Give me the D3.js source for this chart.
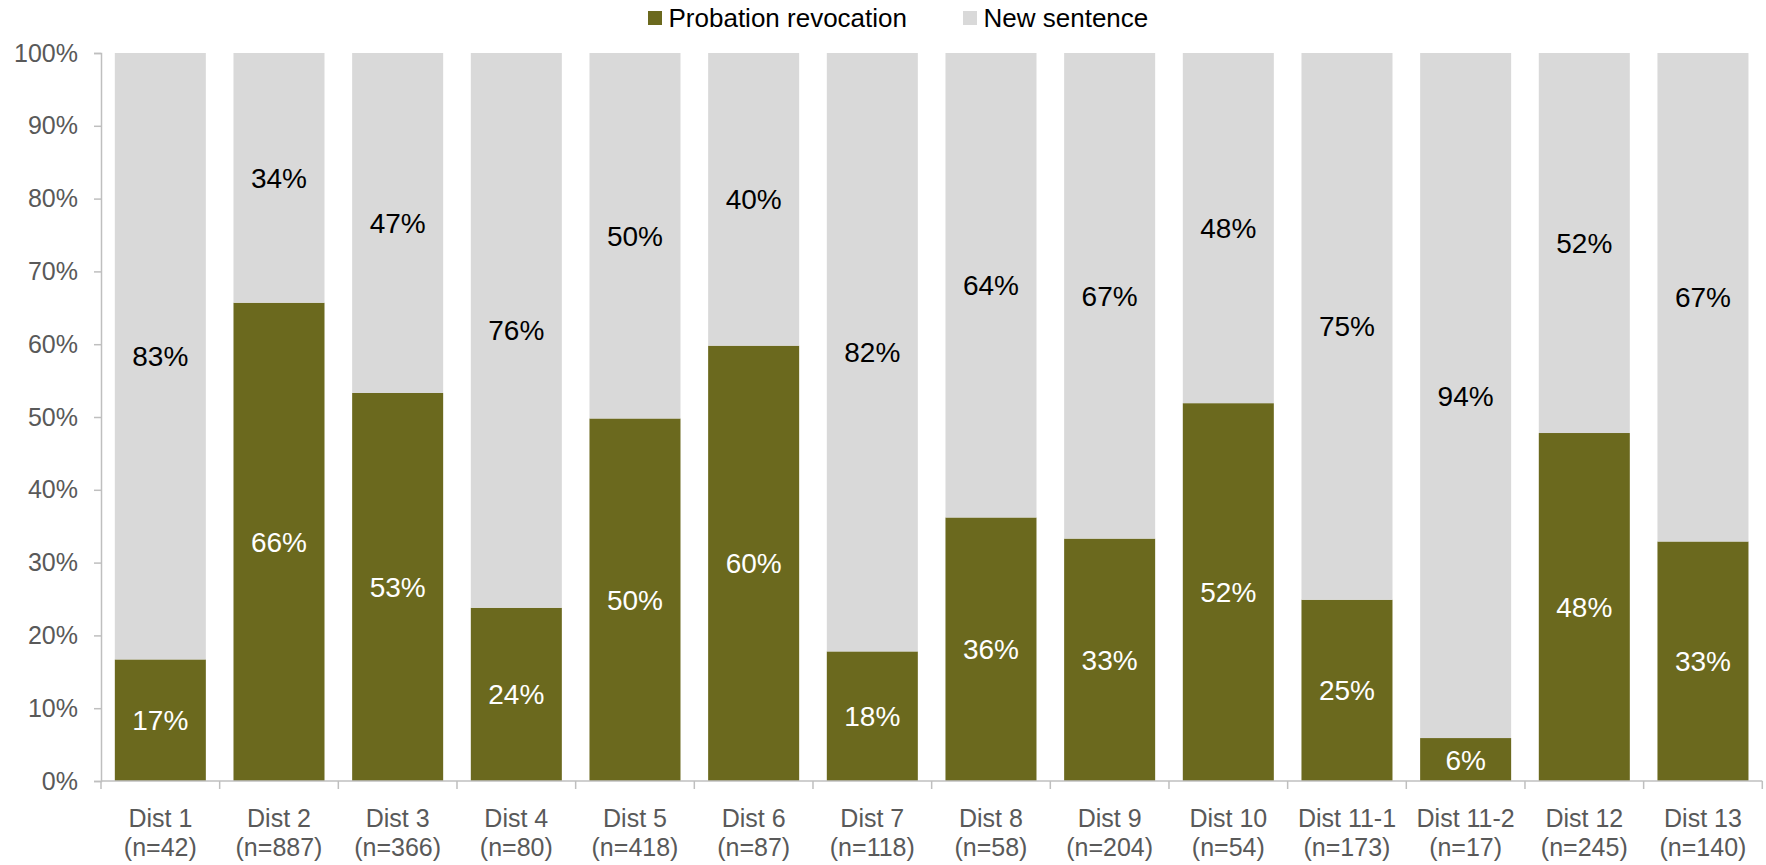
<!DOCTYPE html>
<html>
<head>
<meta charset="utf-8">
<script src="https://cdn.jsdelivr.net/npm/d3@7"></script>
<style>
  html, body { margin: 0; padding: 0; background: #fff; }
  svg { display: block; }
</style>
</head>
<body>
<svg id="chart" width="1766" height="865"></svg>
<script>
const categories = ["Dist 1", "Dist 2", "Dist 3", "Dist 4", "Dist 5", "Dist 6", "Dist 7", "Dist 8", "Dist 9", "Dist 10", "Dist 11-1", "Dist 11-2", "Dist 12", "Dist 13"];
const sampleSizes = ["(n=42)", "(n=887)", "(n=366)", "(n=80)", "(n=418)", "(n=87)", "(n=118)", "(n=58)", "(n=204)", "(n=54)", "(n=173)", "(n=17)", "(n=245)", "(n=140)"];
const probationRevocation = [16.7, 65.7, 53.3, 23.8, 49.8, 59.8, 17.8, 36.2, 33.3, 51.9, 24.9, 5.9, 47.8, 32.9];
const newSentence = [83.3, 34.3, 46.7, 76.2, 50.2, 40.2, 82.2, 63.8, 66.7, 48.1, 75.1, 94.1, 52.2, 67.1];
const seriesNames = ["Probation revocation", "New sentence"];
const yTicks = [0, 10, 20, 30, 40, 50, 60, 70, 80, 90, 100];

const colors = ["#6b691e", "#d9d9d9"];
const labelColors = ["#ffffff", "#000000"];
const font = "'Liberation Sans', Arial, sans-serif";

const svg = d3.select("#chart");
const plotLeft = 101, plotRight = 1762.3, plotTop = 53, plotBottom = 781;

const x = d3.scaleBand().domain(categories).range([plotLeft, plotRight]).paddingInner(0.233).paddingOuter(0.1165);
const y = d3.scaleLinear().domain([0, 100]).range([plotBottom, plotTop]);

const rows = categories.map((c, i) => ({ cat: c, n: sampleSizes[i], v0: probationRevocation[i], v1: newSentence[i] }));
const stack = d3.stack().keys(["v0", "v1"])(rows);

// bars
stack.forEach((layer, li) => {
  svg.append("g").selectAll("rect").data(layer).join("rect")
    .attr("x", d => x(d.data.cat))
    .attr("y", d => y(d[1]))
    .attr("width", x.bandwidth())
    .attr("height", d => y(d[0]) - y(d[1]))
    .attr("fill", colors[li]);
});

// data labels
stack.forEach((layer, li) => {
  svg.append("g").selectAll("text").data(layer).join("text")
    .attr("x", d => x(d.data.cat) + x.bandwidth() / 2)
    .attr("y", d => (y(d[0]) + y(d[1])) / 2)
    .attr("dy", "0.36em")
    .attr("text-anchor", "middle")
    .attr("font-family", font)
    .attr("font-size", 28)
    .attr("fill", labelColors[li])
    .text(d => Math.round(d[1] - d[0]) + "%");
});

// y axis
const yAxis = d3.axisLeft(y).tickValues(yTicks).tickSize(7).tickPadding(16).tickFormat(d => d + "%");
const gy = svg.append("g").attr("transform", `translate(${plotLeft},0)`).call(yAxis);
gy.select(".domain").attr("stroke", "#bfbfbf").attr("stroke-width", 1.5);
gy.selectAll(".tick line").attr("stroke", "#bfbfbf").attr("stroke-width", 1.5);
gy.selectAll(".tick text").attr("font-family", font).attr("font-size", 25).attr("fill", "#595959");

// x axis
const gx = svg.append("g").attr("transform", `translate(0,${plotBottom})`);
gx.append("line").attr("x1", plotLeft).attr("x2", plotRight).attr("y1", 0).attr("y2", 0)
  .attr("stroke", "#bfbfbf").attr("stroke-width", 1.5);
const bounds = categories.map(c => x(c) - x.step() * x.paddingInner() / 2).concat([plotRight]);
gx.selectAll("line.tk").data(bounds).join("line").attr("class", "tk")
  .attr("x1", d => d).attr("x2", d => d).attr("y1", 0).attr("y2", 8)
  .attr("stroke", "#bfbfbf").attr("stroke-width", 1.5);
const cl = gx.selectAll("text").data(rows).join("text")
  .attr("text-anchor", "middle")
  .attr("font-family", font)
  .attr("font-size", 25)
  .attr("fill", "#595959");
cl.append("tspan").attr("x", d => x(d.cat) + x.bandwidth() / 2).attr("y", 46).text(d => d.cat);
cl.append("tspan").attr("x", d => x(d.cat) + x.bandwidth() / 2).attr("y", 75).text(d => d.n);

// legend
const legendX = [648, 963];
const lg = svg.append("g");
seriesNames.forEach((name, i) => {
  lg.append("rect").attr("x", legendX[i]).attr("y", 11).attr("width", 14).attr("height", 14).attr("fill", colors[i]);
  lg.append("text")
    .attr("x", legendX[i] + 20.5).attr("y", 26.7)
    .attr("font-family", font).attr("font-size", 26).attr("fill", "#000")
    .text(name);
});
</script>
</body>
</html>
